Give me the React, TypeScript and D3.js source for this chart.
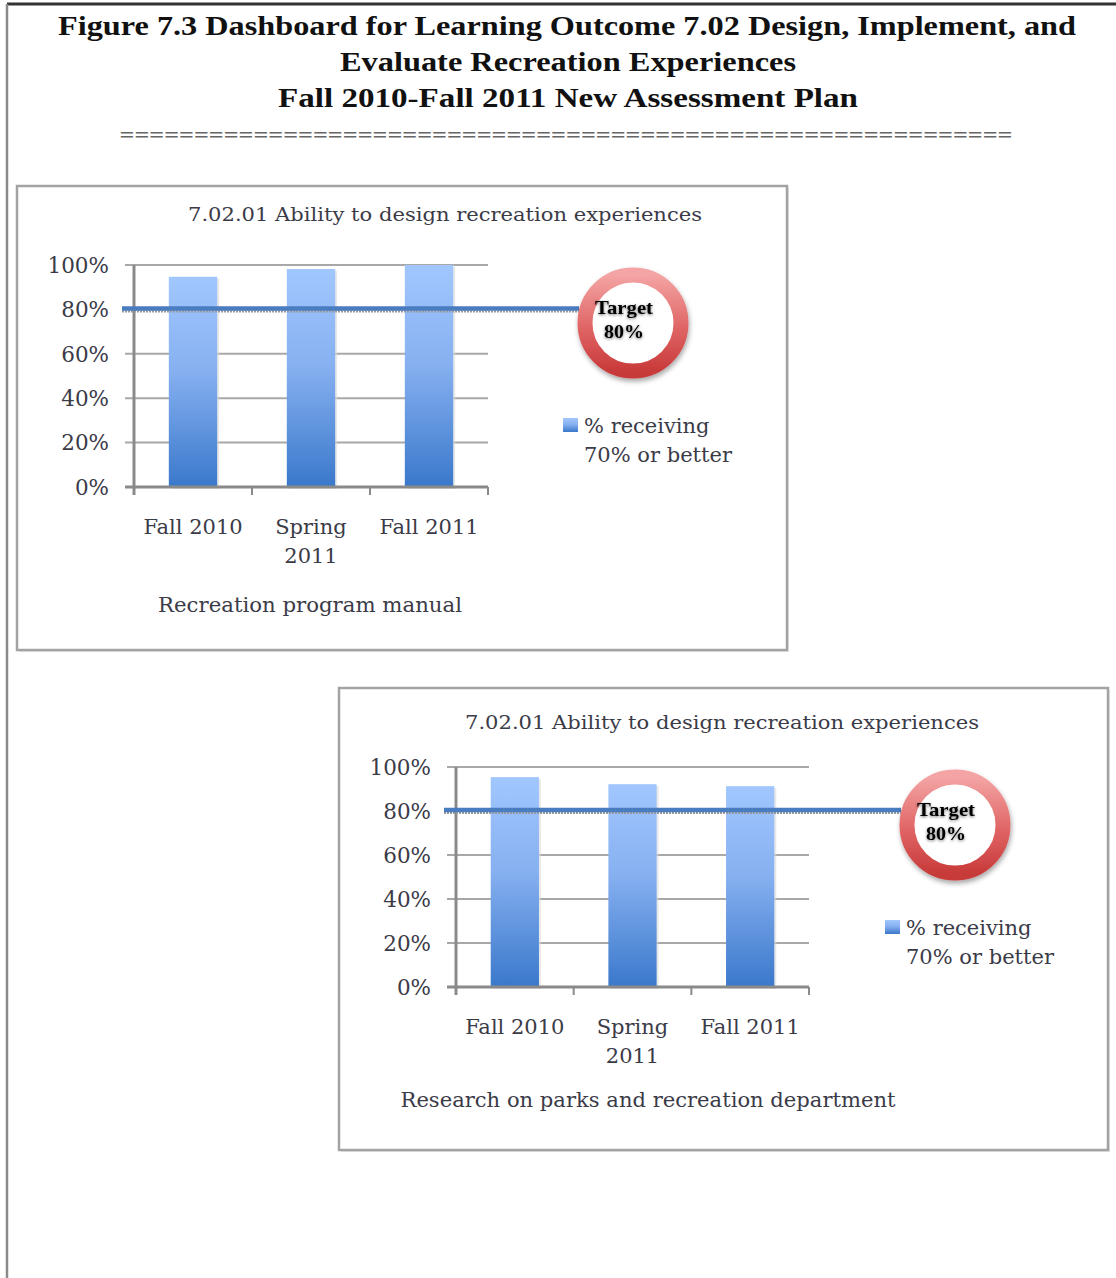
import * as d3 from "d3";

// categories and values
const SEMESTERS = ["Fall 2010", "Spring 2011", "Fall 2011"];
const MANUAL_VALUES = [94.7, 98.2, 100];
const RESEARCH_VALUES = [95.4, 92.2, 91.3];
const Y_TICKS = [0, 20, 40, 60, 80, 100];
const TARGET = 80;

const CHART_TITLE = "7.02.01 Ability to design recreation experiences";
const LEGEND_LINES = ["% receiving", "70% or better"];

const FIG_TITLE = [
  "Figure 7.3 Dashboard for Learning Outcome 7.02 Design, Implement, and",
  "Evaluate Recreation Experiences",
  "Fall 2010-Fall 2011 New Assessment Plan",
];

const W = 1116;
const H = 1278;
const serif = "'DejaVu Serif', serif";
const textColor = "#3b3b48";

const Chart = ({ id, box, values, axisTitle, titleX, titleY, axisTitleX, axisTitleY, axisTitleWidth }) => {
  const margin = { left: 117, right: 299, top: 79, bottom: 163 };
  const left = margin.left;
  const right = box.w - margin.right;
  const top = margin.top;
  const bottom = box.h - margin.bottom;

  const x = d3.scaleBand().domain(SEMESTERS).range([left, right]).paddingInner(0.59).paddingOuter(0.295);
  const y = d3.scaleLinear().domain([0, 100]).range([bottom, top]);
  const step = (right - left) / SEMESTERS.length;

  const ring = { cx: 616, cy: 137, r: 48 };
  const legendX = 546;
  const legendY = 232;

  return (
    <g transform={`translate(${box.x},${box.y})`}>
      <rect x={2} y={2} width={box.w} height={box.h} fill="#e6e6e6" />
      <rect x={0} y={0} width={box.w} height={box.h} fill="#fff" stroke="#a3a3a3" strokeWidth={2.5} />

      <text x={titleX} y={titleY} textAnchor="middle" fontFamily={serif} fontSize={19} fill={textColor}
        textLength={514} lengthAdjust="spacingAndGlyphs">{CHART_TITLE}</text>

      {/* grid */}
      {Y_TICKS.map(t => (
        <g key={t}>
          {t > 0 && <line x1={left - 9} x2={right} y1={y(t)} y2={y(t)} stroke="#a8a8a8" strokeWidth={2} />}
          <text x={left - 25} y={y(t)} dy="0.36em" textAnchor="end" fontFamily={serif} fontSize={21.5} fill={textColor}>{t}%</text>
        </g>
      ))}

      {/* bars */}
      {values.map((v, i) => (
        <g key={i}>
          <rect x={x(SEMESTERS[i]) + 2} y={y(v) + 2} width={x.bandwidth()} height={y(0) - y(v)} fill="#d8d8d8" opacity={0.6} />
          <rect x={x(SEMESTERS[i])} y={y(v)} width={x.bandwidth()} height={y(0) - y(v)} fill={`url(#barGrad-${id})`} />
        </g>
      ))}

      {/* axes */}
      <line x1={left} x2={left} y1={top} y2={bottom + 8} stroke="#8a8a8a" strokeWidth={3} />
      <line x1={left - 9} x2={right} y1={bottom} y2={bottom} stroke="#8a8a8a" strokeWidth={3} />
      {d3.range(SEMESTERS.length + 1).map(i => (
        <line key={i} x1={left + i * step} x2={left + i * step} y1={bottom} y2={bottom + 8} stroke="#8a8a8a" strokeWidth={2} />
      ))}

      {SEMESTERS.map(s => {
        const cx = x(s) + x.bandwidth() / 2;
        const parts = s.startsWith("Spring") ? s.split(" ") : [s];
        return (
          <text key={s} x={cx} y={bottom + 47} textAnchor="middle" fontFamily={serif} fontSize={21} fill={textColor}>
            {parts.map((p, j) => <tspan key={j} x={cx} dy={j === 0 ? 0 : 29}>{p}</tspan>)}
          </text>
        );
      })}

      <text x={axisTitleX} y={axisTitleY} textAnchor="middle" fontFamily={serif} fontSize={21} fill={textColor}
        textLength={axisTitleWidth} lengthAdjust="spacingAndGlyphs">{axisTitle}</text>

      {/* target line */}
      <line x1={left - 12} x2={ring.cx - ring.r - 6} y1={y(TARGET) + 2} y2={y(TARGET) + 2} stroke="#9a9a9a" strokeWidth={2} strokeDasharray="2 1" />
      <line x1={left - 12} x2={ring.cx - ring.r - 6} y1={y(TARGET) - 1} y2={y(TARGET) - 1} stroke="#4a7cc0" strokeWidth={4.5} />

      {/* target badge */}
      <circle cx={ring.cx} cy={ring.cy} r={ring.r} fill="#fff" stroke={`url(#ringGrad-${id})`} strokeWidth={15} filter="url(#shadow)" />
      <g fontFamily="'Liberation Serif', serif" fontWeight="bold" fill="#000" textAnchor="middle" filter="url(#glow)">
        <text x={ring.cx - 9} y={ring.cy - 9} fontSize={19} textLength={58} lengthAdjust="spacingAndGlyphs">Target</text>
        <text x={ring.cx - 9} y={ring.cy + 15} fontSize={19} textLength={40} lengthAdjust="spacingAndGlyphs">80%</text>
      </g>

      {/* legend */}
      <rect x={legendX} y={legendY} width={15} height={14} fill={`url(#barGrad-${id})`} />
      <text x={legendX + 21} y={legendY + 7} fontFamily={serif} fontSize={21} fill={textColor}>
        {LEGEND_LINES.map((l, j) => <tspan key={j} x={legendX + 21} dy={j === 0 ? "0.36em" : 29}>{l}</tspan>)}
      </text>

      <defs>
        <linearGradient id={`barGrad-${id}`} x1="0" y1="0" x2="0" y2="1">
          <stop offset="0%" stopColor="#a2c7ff" />
          <stop offset="45%" stopColor="#86b0f0" />
          <stop offset="100%" stopColor="#3a78cb" />
        </linearGradient>
        <linearGradient id={`ringGrad-${id}`} x1="0" y1="0" x2="0" y2="1">
          <stop offset="0%" stopColor="#f4a4a4" />
          <stop offset="55%" stopColor="#e06565" />
          <stop offset="100%" stopColor="#c83a3a" />
        </linearGradient>
      </defs>
    </g>
  );
};

export default function App() {
  return (
    <svg width={W} height={H} style={{ position: "absolute", left: 0, top: 0, background: "#fff" }}>
      <defs>
        <filter id="shadow" x="-30%" y="-30%" width="160%" height="160%">
          <feDropShadow dx="1" dy="3" stdDeviation="2.5" floodColor="#000" floodOpacity="0.35" />
        </filter>
        <filter id="glow" x="-20%" y="-40%" width="140%" height="180%">
          <feDropShadow dx="0" dy="1" stdDeviation="1.5" floodColor="#000" floodOpacity="0.55" />
        </filter>
      </defs>

      {/* page frame */}
      <line x1={7} x2={W} y1={4} y2={4} stroke="#333" strokeWidth={3} />
      <line x1={7} x2={7} y1={4} y2={H} stroke="#8a8a8a" strokeWidth={2.5} />

      <g fontFamily="'Liberation Serif', serif" fontWeight="bold" fontSize={28} fill="#111" textAnchor="middle">
        <text x={567} y={35} textLength={1018} lengthAdjust="spacingAndGlyphs">{FIG_TITLE[0]}</text>
        <text x={568} y={71} textLength={456} lengthAdjust="spacingAndGlyphs">{FIG_TITLE[1]}</text>
        <text x={568} y={107} textLength={580} lengthAdjust="spacingAndGlyphs">{FIG_TITLE[2]}</text>
      </g>
      <text x={566} y={142} textAnchor="middle" fontFamily="'Liberation Serif', serif" fontWeight="bold" fontSize={22} fill="#666"
        textLength={893} lengthAdjust="spacingAndGlyphs">{"=".repeat(60)}</text>

      <Chart id="a" box={{ x: 17, y: 186, w: 770, h: 464 }} values={MANUAL_VALUES}
        axisTitle="Recreation program manual" titleX={428} titleY={35}
        axisTitleX={293} axisTitleY={426} axisTitleWidth={304} />
      <Chart id="b" box={{ x: 339, y: 688, w: 769, h: 462 }} values={RESEARCH_VALUES}
        axisTitle="Research on parks and recreation department" titleX={383} titleY={41}
        axisTitleX={309} axisTitleY={419} axisTitleWidth={495} />
    </svg>
  );
}
